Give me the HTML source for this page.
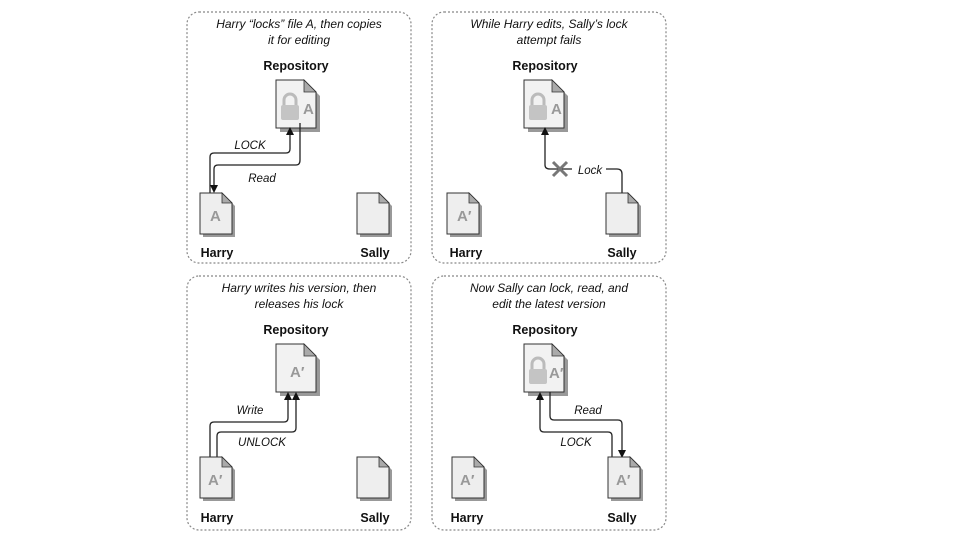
<!DOCTYPE html>
<html><head><style>
html,body{margin:0;padding:0;background:#fff;}
svg{display:block;}
text{font-family:"Liberation Sans",sans-serif;fill:#111;}
.t{font-style:italic;font-size:12px;}
.b{font-weight:bold;font-size:12.5px;}
.l{font-style:italic;font-size:11.5px;}
.ln{fill:none;stroke:#222;stroke-width:1.3;}
.big{font-weight:bold;font-size:15px;fill:#999;}
</style></head><body>
<svg width="960" height="540" viewBox="0 0 960 540" xmlns="http://www.w3.org/2000/svg">
<defs>
<marker id="ar" markerWidth="8" markerHeight="8" refX="4" refY="4" orient="auto" markerUnits="userSpaceOnUse">
<path d="M0,0 L8,4 L0,8 z" fill="#111"/></marker>
<g id="doc">
<path d="M3,3 H25 L35,13 V44 H3 Z" fill="#999"/>
<path d="M0,0 H22 L32,10 V41 H0 Z" fill="#eee" stroke="#333" stroke-width="1"/>
<path d="M22,0 V10 H32 Z" fill="#aaa" stroke="#333" stroke-width="0.8"/>
</g>
<g id="rdoc">
<path d="M4,4 H32 L44,16 V52 H4 Z" fill="#999"/>
<path d="M0,0 H28 L40,12 V48 H0 Z" fill="#f2f2f2" stroke="#333" stroke-width="1"/>
<path d="M28,0 V12 H40 Z" fill="#aaa" stroke="#333" stroke-width="0.8"/>
</g>
<g id="lock">
<path d="M4,12 V7 a6,6 0 0 1 12,0 V12" fill="none" stroke="#bbb" stroke-width="3"/>
<rect x="1" y="12" width="18" height="15" rx="2" fill="#c4c4c4"/>
</g>
</defs>
<g fill="none" stroke="#888" stroke-width="1.2" stroke-dasharray="2,2">
<rect x="187" y="12" width="224" height="251" rx="12"/>
<rect x="432" y="12" width="234" height="251" rx="12"/>
<rect x="187" y="276" width="224" height="254" rx="12"/>
<rect x="432" y="276" width="234" height="254" rx="12"/>
</g>
<!-- panel 1 -->
<text class="t" x="299" y="28" text-anchor="middle">Harry “locks” file A, then copies</text>
<text class="t" x="299" y="44" text-anchor="middle">it for editing</text>
<text class="b" x="296" y="70" text-anchor="middle">Repository</text>
<use href="#rdoc" x="276" y="80"/>
<use href="#lock" x="280" y="93"/>
<text class="big" x="303" y="114">A</text>
<path class="ln" d="M210,193 V157 Q210,153 214,153 H286 Q290,153 290,149 V131" marker-end="url(#ar)"/>
<path class="ln" d="M300,123 V160 Q300,165 296,165 H218 Q214,165 214,169 V189" marker-end="url(#ar)"/>
<text class="l" x="250" y="149" text-anchor="middle">LOCK</text>
<text class="l" x="262" y="182" text-anchor="middle">Read</text>
<use href="#doc" x="200" y="193"/>
<text class="big" x="210" y="221" font-size="13">A</text>
<use href="#doc" x="357" y="193"/>
<text class="b" x="217" y="257" text-anchor="middle">Harry</text>
<text class="b" x="375" y="257" text-anchor="middle">Sally</text>
<!-- panel 2 -->
<text class="t" x="549" y="28" text-anchor="middle">While Harry edits, Sally’s lock</text>
<text class="t" x="549" y="44" text-anchor="middle">attempt fails</text>
<text class="b" x="545" y="70" text-anchor="middle">Repository</text>
<use href="#rdoc" x="524" y="80"/>
<use href="#lock" x="528" y="93"/>
<text class="big" x="551" y="114">A</text>
<path class="ln" d="M622,193 V174 Q622,169 617,169 H550 Q545,169 545,165 V131" marker-end="url(#ar)"/>
<rect x="572" y="161" width="34" height="16" fill="#fff"/>
<text class="l" x="590" y="174" text-anchor="middle">Lock</text>
<path d="M553,162 L567,176 M567,162 L553,176" stroke="#777" stroke-width="3"/>
<use href="#doc" x="447" y="193"/>
<text class="big" x="457" y="221" font-size="13">A′</text>
<use href="#doc" x="606" y="193"/>
<text class="b" x="466" y="257" text-anchor="middle">Harry</text>
<text class="b" x="622" y="257" text-anchor="middle">Sally</text>
<!-- panel 3 -->
<text class="t" x="299" y="292" text-anchor="middle">Harry writes his version, then</text>
<text class="t" x="299" y="308" text-anchor="middle">releases his lock</text>
<text class="b" x="296" y="334" text-anchor="middle">Repository</text>
<use href="#rdoc" x="276" y="344"/>
<text class="big" x="290" y="377">A′</text>
<path class="ln" d="M210,457 V426 Q210,422 214,422 H284 Q288,422 288,418 V396" marker-end="url(#ar)"/>
<path class="ln" d="M217,457 V436 Q217,432 221,432 H292 Q296,432 296,428 V396" marker-end="url(#ar)"/>
<text class="l" x="250" y="414" text-anchor="middle">Write</text>
<text class="l" x="262" y="446" text-anchor="middle">UNLOCK</text>
<use href="#doc" x="200" y="457"/>
<text class="big" x="208" y="485" font-size="13">A′</text>
<use href="#doc" x="357" y="457"/>
<text class="b" x="217" y="522" text-anchor="middle">Harry</text>
<text class="b" x="375" y="522" text-anchor="middle">Sally</text>
<!-- panel 4 -->
<text class="t" x="549" y="292" text-anchor="middle">Now Sally can lock, read, and</text>
<text class="t" x="549" y="308" text-anchor="middle">edit the latest version</text>
<text class="b" x="545" y="334" text-anchor="middle">Repository</text>
<use href="#rdoc" x="524" y="344"/>
<use href="#lock" x="528" y="357"/>
<text class="big" x="549" y="378" font-size="13">A′</text>
<path class="ln" d="M612,457 V436 Q612,432 608,432 H544 Q540,432 540,428 V396" marker-end="url(#ar)"/>
<path class="ln" d="M550,392 V416 Q550,420 554,420 H618 Q622,420 622,424 V454" marker-end="url(#ar)"/>
<text class="l" x="588" y="414" text-anchor="middle">Read</text>
<text class="l" x="576" y="446" text-anchor="middle">LOCK</text>
<use href="#doc" x="452" y="457"/>
<text class="big" x="460" y="485" font-size="13">A′</text>
<use href="#doc" x="608" y="457"/>
<text class="big" x="616" y="485" font-size="13">A′</text>
<text class="b" x="467" y="522" text-anchor="middle">Harry</text>
<text class="b" x="622" y="522" text-anchor="middle">Sally</text>
</svg>
</body></html>
